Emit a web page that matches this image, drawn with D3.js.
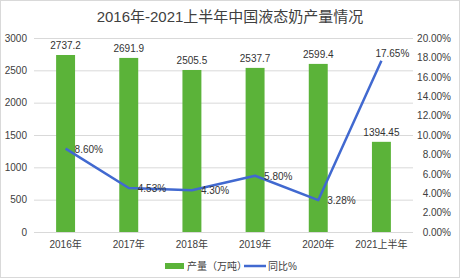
<!DOCTYPE html>
<html>
<head>
<meta charset="utf-8">
<script src="https://cdn.jsdelivr.net/npm/d3@7"></script>
<style>
  body { margin: 0; background: #fff; }
  svg text { font-family: "Liberation Sans", "Noto Sans CJK SC", sans-serif; fill: #333; }
</style>
</head>
<body>
<div id="chart"></div>
<script>
const categories = ["2016年", "2017年", "2018年", "2019年", "2020年", "2021上半年"];
const output = [2737.2, 2691.9, 2505.5, 2537.7, 2599.4, 1394.45];
const outputLabels = ["2737.2", "2691.9", "2505.5", "2537.7", "2599.4", "1394.45"];
const growth = [8.60, 4.53, 4.30, 5.80, 3.28, 17.65];
const leftTicks = [0, 500, 1000, 1500, 2000, 2500, 3000];
const rightTicks = [0, 2, 4, 6, 8, 10, 12, 14, 16, 18, 20];

const W = 460, H = 279;
const margin = { top: 38, right: 47, bottom: 47, left: 34 };
const plotW = W - margin.left - margin.right;
const plotH = H - margin.top - margin.bottom;

const svg = d3.select("#chart").append("svg")
    .attr("width", W)
    .attr("height", H);

// 外框
svg.append("rect")
    .attr("x", 0.5).attr("y", 0.5)
    .attr("width", W - 1).attr("height", H - 2)
    .attr("fill", "#fff")
    .attr("stroke", "#d9d9d9");

svg.append("text")
    .attr("x", W / 2)
    .attr("y", 22)
    .attr("text-anchor", "middle")
    .style("font-size", "15px")
    .style("fill", "#404040")
    .text("2016年-2021上半年中国液态奶产量情况");

const g = svg.append("g")
    .attr("transform", `translate(${margin.left}, ${margin.top})`);

const x = d3.scaleBand()
    .domain(categories)
    .range([0, plotW])
    .paddingInner(0.7)
    .paddingOuter(0.35);

const y = d3.scaleLinear().domain([0, 3000]).range([plotH, 0]);
const y2 = d3.scaleLinear().domain([0, 20]).range([plotH, 0]);

// 网格线
g.selectAll(".grid")
    .data(leftTicks)
    .enter()
    .append("line")
    .attr("x1", 0).attr("x2", plotW)
    .attr("y1", d => y(d) + 0.5).attr("y2", d => y(d) + 0.5)
    .attr("stroke", "#d9d9d9");

// 左轴
const yAxis = g.append("g")
    .call(d3.axisLeft(y).tickValues(leftTicks).tickSize(0).tickPadding(7).tickFormat(d3.format("d")));
yAxis.select(".domain").remove();
yAxis.selectAll("text").style("font-size", "10px").style("fill", "#404040")
    .style("font-family", "Liberation Sans, sans-serif");

// 右轴
const y2Axis = g.append("g")
    .attr("transform", `translate(${plotW + 38}, 0)`)
    .call(d3.axisRight(y2).tickValues(rightTicks).tickSize(0).tickPadding(0)
        .tickFormat(d => d3.format(".2f")(d) + "%"));
y2Axis.select(".domain").remove();
y2Axis.selectAll("text").attr("text-anchor", "end").style("font-size", "10px").style("fill", "#404040")
    .style("font-family", "Liberation Sans, sans-serif");

// x轴
const xAxis = g.append("g")
    .attr("transform", `translate(0, ${plotH})`)
    .call(d3.axisBottom(x).tickSize(0).tickPadding(9));
xAxis.select(".domain").remove();
xAxis.selectAll("text").style("font-size", "10px").style("fill", "#404040");

// 柱子
g.selectAll(".bar")
    .data(output)
    .enter()
    .append("rect")
    .attr("x", (d, i) => x(categories[i]))
    .attr("y", d => y(d))
    .attr("width", x.bandwidth())
    .attr("height", d => plotH - y(d))
    .attr("fill", "#5bb339");

g.selectAll(".barLabel")
    .data(output)
    .enter()
    .append("text")
    .attr("x", (d, i) => x(categories[i]) + x.bandwidth() / 2)
    .attr("y", d => y(d) - 6)
    .attr("text-anchor", "middle")
    .style("font-size", "10px")
    .text((d, i) => outputLabels[i]);

// 折线
const line = d3.line()
    .x((d, i) => x(categories[i]) + x.bandwidth() / 2)
    .y(d => y2(d));

g.append("path")
    .datum(growth)
    .attr("d", line)
    .attr("fill", "none")
    .attr("stroke", "#4169d0")
    .attr("stroke-width", 2.5)
    .attr("stroke-linejoin", "round");

g.selectAll(".lineLabel")
    .data(growth)
    .enter()
    .append("text")
    .attr("x", (d, i) => x(categories[i]) + x.bandwidth() / 2 + (i === 5 ? -6 : 9))
    .attr("y", (d, i) => y2(d) + (i === 5 ? -4 : 4))
    .style("font-size", "10px")
    .text(d => d3.format(".2f")(d) + "%");

// 图例
const legend = svg.append("g").attr("transform", "translate(0, 266)");
legend.append("rect")
    .attr("x", 165).attr("y", -3)
    .attr("width", 19).attr("height", 6)
    .attr("fill", "#5bb339");
legend.append("text")
    .attr("x", 187).attr("y", 4)
    .style("font-size", "10px")
    .style("fill", "#404040")
    .text("产量（万吨）");
legend.append("line")
    .attr("x1", 244).attr("x2", 266)
    .attr("y1", 0).attr("y2", 0)
    .attr("stroke", "#4169d0")
    .attr("stroke-width", 2.5);
legend.append("text")
    .attr("x", 268).attr("y", 4)
    .style("font-size", "10px")
    .style("fill", "#404040")
    .text("同比%");
</script>
</body>
</html>
